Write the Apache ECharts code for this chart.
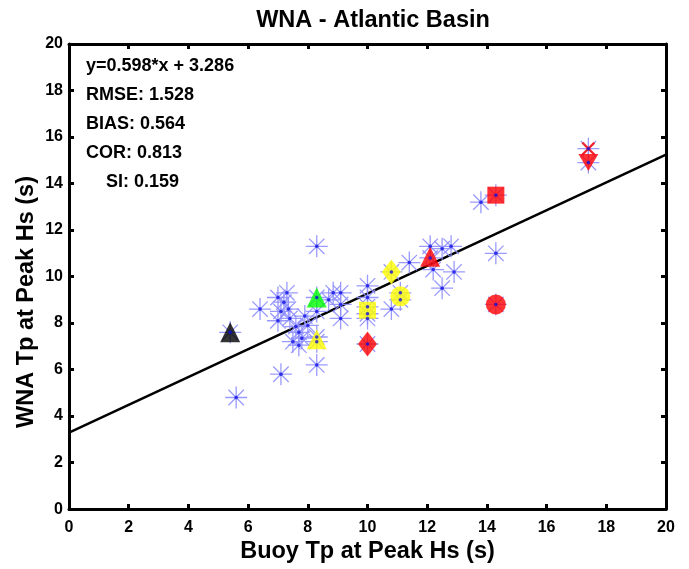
<!DOCTYPE html>
<html>
<head>
<meta charset="utf-8">
<script src="https://cdn.jsdelivr.net/npm/echarts@6/dist/echarts.min.js"></script>
<style>
  html, body { margin: 0; padding: 0; background: #fff; }
  #chart { width: 689px; height: 569px; }
</style>
</head>
<body>
<div id="chart"></div>
<script>
// buoy Tp vs model Tp (s), all collocated peaks
const buoyTp = [5.6, 7.1, 8.3, 8.3, 5.4, 8.3, 8.3, 8.3, 10.0, 10.0, 10.0, 10.8, 11.1, 11.1, 12.1, 14.3, 14.3, 17.4, 17.4,
  14.3, 13.8, 12.1, 12.5, 11.4, 12.2, 12.9, 12.5, 10.8, 10.0, 10.0, 10.0, 9.1, 9.1, 9.1, 8.3, 8.7, 8.85,
  6.4, 7.0, 7.3, 7.1, 7.35, 7.4, 7.6, 7.7, 7.8, 7.7, 7.2, 7.0, 7.5, 12.8, 7.9, 8.0]
const wnaTp = [4.8, 5.8, 6.2, 11.3, 7.6, 9.1, 7.4, 7.2, 7.1, 8.7, 8.4, 10.2, 9.3, 9.0, 10.8, 8.8, 13.5, 15.5, 14.9,
  11.0, 13.2, 11.3, 11.2, 10.6, 10.3, 10.2, 9.5, 8.6, 9.6, 9.1, 8.2, 9.3, 8.2, 8.8, 8.5, 9.0, 9.3,
  8.6, 9.1, 9.3, 8.5, 8.6, 8.2, 7.85, 7.6, 7.35, 7.05, 8.9, 8.1, 7.2, 11.3, 8.3, 7.9]

// highlighted buoys
const specialX = [5.4, 8.3, 8.3, 10.0, 10.0, 10.8, 11.1, 12.1, 14.3, 14.3, 17.4, 17.4]
const specialY = [7.6, 9.1, 7.3, 7.1, 8.55, 10.2, 9.15, 10.85, 8.8, 13.5, 14.9, 15.5]
const specialShape = ['triangle', 'triangle', 'triangle', 'diamond', 'rect', 'diamond', 'circle', 'triangle', 'circle', 'rect', 'downTriangle', 'cross']
const specialColor = ['#000000', '#00ff00', '#ffff00', '#ff0000', '#ffff00', '#ffff00', '#ffff00', '#ff0000', '#ff0000', '#ff0000', '#ff0000', '#ff0000']

const slope = 0.598
const intercept = 3.286
const xTicks = [0, 20]

const statLines = ['y=0.598*x + 3.286', 'RMSE: 1.528', 'BIAS: 0.564', 'COR: 0.813', '    SI: 0.159']

const FONT = 'Liberation Sans'
const ASTERISK = 'path://M10 0 L10 20 M0 10 L20 10 M3 3 L17 17 M3 17 L17 3'
const CROSS = 'path://M0 0 L20 20 M0 20 L20 0'
const DOWN = 'path://M0 0 L20 0 L10 17 Z'

const chart = echarts.init(document.getElementById('chart'))

const points = buoyTp.map((x, i) => [x, wnaTp[i]])

const specials = specialX.map((x, i) => {
  let shape = specialShape[i]
  let color = specialColor[i]
  let item = {value: [x, specialY[i]], symbol: shape, symbolSize: 20, itemStyle: {color: color}}
  if (shape === 'rect') item.symbolSize = 17
  if (shape === 'circle') item.symbolSize = 20
  if (shape === 'diamond') item.symbolSize = [19, 25]
  if (shape === 'downTriangle') {
    item.symbol = DOWN
    item.symbolSize = [20, 17]
  }
  if (shape === 'cross') {
    item.symbol = CROSS
    item.symbolSize = 12
    item.itemStyle = {color: 'transparent', borderColor: color, borderWidth: 2.2}
  }
  return item
})

const fitLine = xTicks.map(x => [x, slope * x + intercept])

const axisCommon = {
  type: 'value',
  min: 0,
  max: 20,
  interval: 2,
  axisLine: {show: true, onZero: false, lineStyle: {color: '#000', width: 3}},
  axisTick: {show: true, inside: true, length: 5, lineStyle: {color: '#000', width: 3}},
  splitLine: {show: false},
}

const labelStyle = {color: '#000', fontFamily: FONT, fontWeight: 'bold', fontSize: 16}
const nameStyle = {color: '#000', fontFamily: FONT, fontWeight: 'bold', fontSize: 23.5}

chart.setOption({
  animation: false,
  backgroundColor: '#fff',
  title: {
    text: 'WNA - Atlantic Basin',
    left: 368,
    top: 4,
    textAlign: 'center',
    textStyle: {color: '#000', fontFamily: FONT, fontWeight: 'bold', fontSize: 23.5},
  },
  grid: {left: 69, right: 23, top: 44, bottom: 57},
  xAxis: [
    Object.assign({}, axisCommon, {
      position: 'bottom',
      name: 'Buoy Tp at Peak Hs (s)',
      nameLocation: 'middle',
      nameGap: 29,
      nameTextStyle: nameStyle,
      axisLabel: Object.assign({margin: 10}, labelStyle),
    }),
    Object.assign({}, axisCommon, {position: 'top', axisLabel: {show: false}}),
  ],
  yAxis: [
    Object.assign({}, axisCommon, {
      position: 'left',
      axisLabel: Object.assign({margin: 6}, labelStyle),
    }),
    Object.assign({}, axisCommon, {position: 'right', axisLabel: {show: false}}),
  ],
  graphic: statLines.map((t, i) => ({
    type: 'text',
    left: 86,
    top: 57 + i * 29,
    style: {text: t, fill: '#000', font: 'bold 18px "Liberation Sans"'},
  })).concat([{
    type: 'text',
    x: 27,
    y: 302,
    rotation: Math.PI / 2,
    style: {
      text: 'WNA Tp at Peak Hs (s)',
      fill: '#000',
      font: 'bold 23.5px "Liberation Sans"',
      align: 'center',
      verticalAlign: 'middle',
    },
  }]),
  series: [
    {
      type: 'line',
      data: fitLine,
      symbol: 'none',
      lineStyle: {color: '#000', width: 2.5},
      z: 1,
    },
    {
      type: 'scatter',
      data: points,
      symbol: ASTERISK,
      symbolSize: 22,
      itemStyle: {color: 'transparent', borderColor: '#8f8fff', borderWidth: 1.3, opacity: 0.9},
      z: 2,
    },
    {
      type: 'scatter',
      data: specials,
      z: 3,
    },
    {
      type: 'scatter',
      data: points,
      symbol: 'circle',
      symbolSize: 3.5,
      itemStyle: {color: '#1010e0'},
      z: 4,
    },
  ],
})
</script>
</body>
</html>
